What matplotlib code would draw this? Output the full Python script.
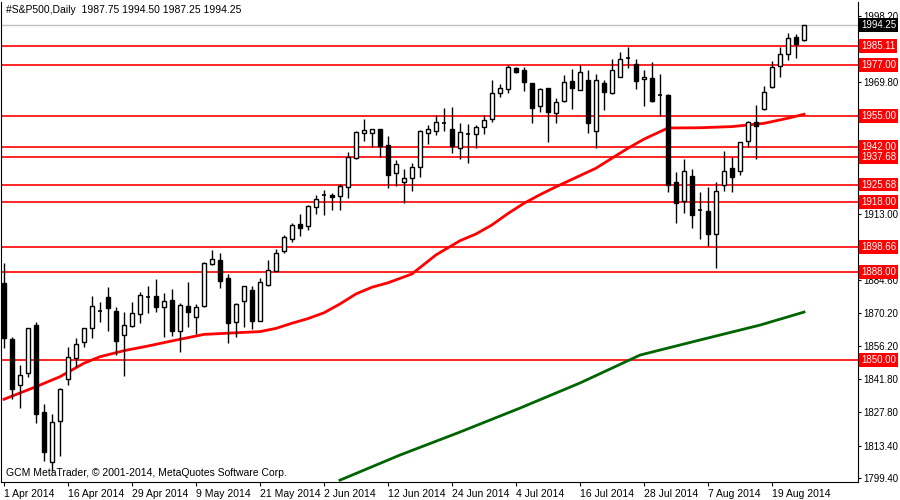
import matplotlib
matplotlib.use("Agg")
import matplotlib.pyplot as plt
import matplotlib.transforms as mtransforms

plt.rcParams['font.family'] = ['Liberation Sans', 'DejaVu Sans']

opens = [1883.2,1859.2,1839.4,1844.5,1865.2,1827.7,1806.4,1824.0,1841.9,1850.9,
         1858.0,1863.8,1871.6,1877.2,1871.4,1860.9,1864.8,1870.0,1877.6,1877.7,
         1873.1,1876.0,1862.8,1873.4,1868.6,1873.5,1891.6,1893.2,1885.3,1866.7,
         1875.7,1880.3,1867.1,1882.4,1888.6,1897.2,1902.1,1908.7,1908.0,1915.9,
         1921.2,1921.2,1920.9,1924.5,1937.0,1948.0,1947.7,1949.5,1942.7,1930.5,
         1926.6,1928.4,1933.1,1947.7,1948.7,1952.2,1949.4,1941.3,1947.6,1947.3,
         1950.3,1953.9,1964.9,1966.7,1975.7,1975.0,1969.2,1959.5,1967.1,1956.3,
         1961.6,1970.2,1966.4,1970.7,1948.7,1969.5,1964.9,1972.1,1980.2,1977.5,
         1971.0,1971.4,1964.4,1964.2,1926.9,1918.7,1929.5,1914.9,1914.3,1904.4,
         1925.5,1932.7,1931.6,1944.5,1952.5,1958.1,1967.5,1976.7,1981.7,1989.0,
         1987.75]
highs = [1891.8,1860.0,1848.0,1864.0,1866.7,1831.2,1826.9,1838.0,1855.6,1859.5,
         1864.0,1877.7,1875.0,1881.7,1873.1,1871.0,1875.0,1879.6,1882.0,1885.0,
         1878.9,1880.7,1874.6,1883.7,1874.3,1892.5,1897.5,1896.1,1887.2,1874.6,
         1882.2,1882.0,1885.3,1893.2,1897.9,1904.0,1909.0,1913.0,1916.8,1921.2,
         1923.3,1921.9,1925.8,1939.5,1948.5,1953.9,1949.6,1949.7,1946.6,1936.2,
         1932.4,1934.8,1949.1,1951.3,1955.6,1958.5,1958.9,1952.0,1951.6,1951.3,
         1955.6,1970.7,1968.9,1977.1,1976.1,1976.4,1969.5,1967.1,1967.3,1962.8,
         1972.8,1975.3,1977.1,1975.0,1973.2,1970.7,1979.7,1982.6,1985.0,1979.7,
         1975.0,1978.3,1973.2,1964.6,1930.9,1936.7,1932.2,1922.3,1924.7,1926.9,
         1940.2,1937.7,1944.1,1953.0,1959.9,1968.1,1979.0,1984.7,1991.0,1990.5,
         1994.50]
lows = [1855.2,1833.3,1829.6,1842.7,1822.9,1806.8,1802.5,1808.9,1839.4,1847.3,
        1855.6,1859.5,1866.7,1862.8,1852.3,1843.3,1864.2,1866.0,1870.5,1871.0,
        1859.9,1860.6,1853.7,1864.2,1861.4,1873.0,1891.1,1881.3,1857.6,1860.2,
        1864.5,1863.5,1867.0,1882.0,1888.4,1896.1,1901.1,1903.7,1906.1,1913.0,
        1912.6,1914.7,1914.7,1920.0,1936.7,1944.5,1941.7,1937.7,1924.1,1925.0,
        1917.6,1922.9,1928.8,1943.1,1947.0,1948.8,1939.1,1936.5,1935.1,1941.5,
        1947.3,1952.5,1963.5,1964.9,1973.5,1966.1,1952.0,1957.0,1944.1,1952.0,
        1961.3,1958.1,1966.2,1948.0,1941.3,1957.8,1964.5,1971.9,1975.7,1966.8,
        1959.6,1961.1,1955.2,1922.6,1909.3,1913.6,1906.8,1902.1,1899.2,1889.6,
        1923.0,1922.6,1929.8,1941.7,1936.5,1957.8,1967.1,1972.1,1979.3,1980.3,
        1987.25]
closes = [1859.5,1837.6,1843.8,1863.8,1826.9,1810.7,1823.6,1837.6,1851.6,1856.9,
          1863.8,1873.4,1871.2,1872.7,1858.5,1865.2,1870.6,1878.2,1877.2,1873.1,
          1875.4,1862.8,1873.7,1871.0,1872.8,1891.8,1893.6,1884.3,1866.2,1874.3,
          1882.0,1867.1,1883.9,1888.9,1896.1,1903.0,1908.3,1907.1,1916.6,1919.3,
          1920.8,1920.4,1925.2,1937.7,1948.2,1949.1,1949.4,1942.4,1929.8,1934.4,
          1928.4,1933.1,1948.7,1949.4,1952.7,1951.8,1942.4,1948.4,1947.2,1950.3,
          1953.4,1964.9,1967.1,1976.1,1974.2,1969.7,1958.5,1966.7,1956.8,1961.1,
          1969.7,1967.1,1974.0,1952.3,1970.7,1965.6,1975.0,1979.7,1979.8,1970.4,
          1971.8,1961.8,1964.0,1925.5,1917.9,1931.6,1912.6,1914.5,1904.3,1922.9,
          1931.5,1929.1,1943.9,1952.5,1950.9,1965.6,1976.1,1981.8,1988.6,1986.0,
          1994.25]

ma_red_idx = [0,4,7,10,12,15,18,21,25,29,32,34,36,38,40,42,44,46,48,51,54,57,59,61,63,65,
              67,69,72,74,76,78,80,82,83,87,91,95,98,100]
ma_red_val = [1833.3,1838.7,1843.0,1848.8,1851.6,1854.2,1856.2,1858.4,1861.2,1861.9,1862.4,
              1863.8,1866.0,1868.0,1870.5,1874.3,1878.6,1881.5,1883.4,1887.2,1895.4,1901.5,
              1904.4,1908.3,1913.2,1917.6,1921.3,1924.7,1929.5,1932.7,1937.0,1941.3,1945.2,
              1948.4,1950.0,1950.1,1950.6,1952.0,1954.2,1955.9]
ma_green_idx = [42,49.5,57,64.5,72,79.5,87,94.5,100]
ma_green_val = [1798.5,1809.3,1819.2,1829.5,1840.3,1852.3,1858.8,1865.2,1870.8]

levels = [1985.11,1977.00,1955.00,1942.00,1937.68,1925.68,1918.00,1898.66,1888.00,1850.00]
axis_ticks = [1998.20,1969.80,1913.00,1884.60,1870.20,1856.20,1841.80,1827.80,1813.40,1799.40]
date_idx = [0,8,16,24,32,40,48,56,64,72,80,88,96]
date_labels = ["1 Apr 2014","16 Apr 2014","29 Apr 2014","9 May 2014","21 May 2014",
               "2 Jun 2014","12 Jun 2014","24 Jun 2014","4 Jul 2014","16 Jul 2014",
               "28 Jul 2014","7 Aug 2014","19 Aug 2014"]
last_price = 1994.25

fig = plt.figure(figsize=(9, 5), dpi=100)
ax = fig.add_axes([1/900, 18/500, 857/900, 480/500])
ax.set_xlim(-0.375, 106.75)
ax.set_ylim(1797.7, 2004.2)

for lv in levels:
    ax.axhline(lv, color="#ff0000", lw=1.2, zorder=1)
ax.axhline(last_price, color="#c0c0c0", lw=1, zorder=1)

ax.plot(ma_red_idx, ma_red_val, color="#ff0000", lw=2, zorder=2)
ax.plot(ma_green_idx, ma_green_val, color="#006400", lw=2, zorder=2)

w = 0.6
for i, (o, h, l, c) in enumerate(zip(opens, highs, lows, closes)):
    ax.vlines(i, l, h, color="black", lw=1, zorder=3)
    if abs(c - o) < 0.5:
        ax.hlines((o + c) / 2, i - w/2, i + w/2, color="black", lw=1.2, zorder=4)
    else:
        ax.bar(i, abs(c - o), bottom=min(o, c), width=w,
               color="white" if c > o else "black", edgecolor="black", lw=1, zorder=4)

ax.spines["top"].set_visible(False)
for s in ["left", "right", "bottom"]:
    ax.spines[s].set_color("black")

ax.yaxis.tick_right()
ax.set_yticks(axis_ticks)
ax.set_yticklabels([f"{v:.2f}" for v in axis_ticks], fontsize=7)
ax.tick_params(axis="y", length=2, pad=2)
ax.set_xticks(date_idx)
ax.set_xticklabels(date_labels, fontsize=7.5, ha="left")
ax.tick_params(axis="x", length=3, pad=2)

trans = mtransforms.blended_transform_factory(ax.transAxes, ax.transData)
for lv in levels:
    ax.text(1.0035, lv, f"{lv:.2f}", transform=trans, fontsize=7, color="white",
            va="center", ha="left", clip_on=False, zorder=10,
            bbox=dict(boxstyle="square,pad=0.2", fc="#ff0000", ec="none"))
ax.text(1.0035, last_price, f"{last_price:.2f}", transform=trans, fontsize=7, color="white",
        va="center", ha="left", clip_on=False, zorder=10,
        bbox=dict(boxstyle="square,pad=0.2", fc="black", ec="none"))

fig.text(6/900, 1 - 10/500, "#S&P500,Daily  1987.75 1994.50 1987.25 1994.25",
         fontsize=7.5, va="center", ha="left")
fig.text(6/900, 1 - 473/500, "GCM MetaTrader, \u00a9 2001-2014, MetaQuotes Software Corp.",
         fontsize=7.5, va="center", ha="left")

fig.savefig("out.png", dpi=100)
